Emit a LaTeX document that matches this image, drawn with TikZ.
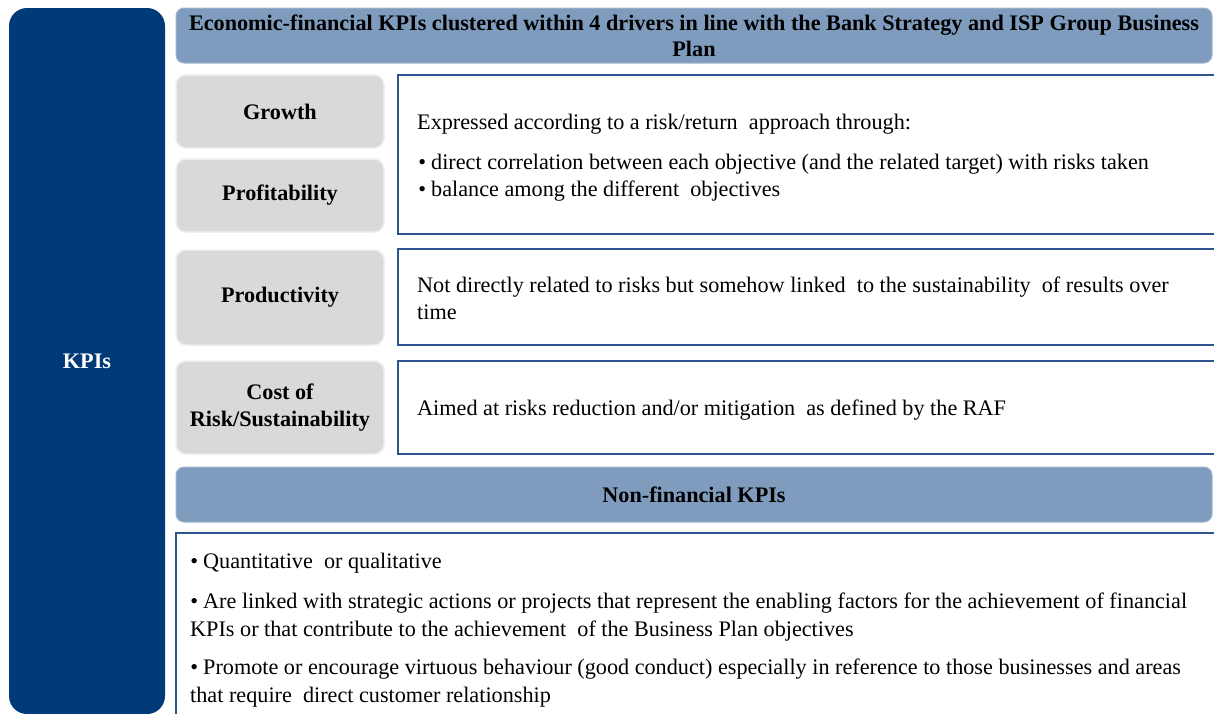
\documentclass[tikz,border=0pt]{standalone}
\usepackage{fontspec}
\setmainfont{Liberation Serif}
\usepackage{tikz}
\definecolor{kpinavy}{RGB}{0,58,120}
\definecolor{headblue}{RGB}{127,156,190}
\definecolor{drivergray}{RGB}{217,217,217}
\definecolor{panelblue}{RGB}{47,85,145}
\newcommand{\kpifont}{\fontsize{22.2}{27}\selectfont}
\newcommand{\kpibul}{\llap{\textbullet\hspace{5pt}}}
\tikzstyle{bar}=[rectangle,rounded corners=18pt,fill=kpinavy,text=white,inner sep=0pt,font=\kpifont\bfseries]
\tikzstyle{head}=[rectangle,rounded corners=8pt,fill=headblue,draw=headblue!75!white,line width=1pt,inner sep=0pt,align=center,font=\fontsize{22.2}{26}\selectfont\bfseries]
\tikzstyle{driver}=[rectangle,rounded corners=10pt,fill=drivergray,draw=drivergray!45!white,line width=1.5pt,inner sep=0pt,align=center,font=\kpifont\bfseries]
\tikzstyle{panel}=[rectangle,draw=panelblue,line width=2.2pt,fill=white,inner sep=0pt]
\tikzstyle{txt}=[anchor=base west,inner sep=0pt,font=\kpifont]

\begin{document}
\begin{tikzpicture}[x=1pt,y=-1pt]

  \useasboundingbox (0,0) rectangle (1214,713);
  \clip (0,0) rectangle (1214,713);

  \node[bar,minimum width=156pt,minimum height=706pt] (kpi) at (87,361) {\raisebox{-3pt}{KPIs}};

  \node[head,minimum width=1036pt,minimum height=55pt] (econ) at (694,35.5) {Economic-financial KPIs clustered within 4 drivers in line with the Bank Strategy and ISP Group Business\\Plan};

  \node[driver,minimum width=208pt,minimum height=73pt] (grow) at (280,111.5) {Growth};
  \node[driver,minimum width=208pt,minimum height=73pt] (prof) at (280,195.5) {Profitability};
  \node[driver,minimum width=208pt,minimum height=95pt] (prod) at (280,297.5) {Productivity};
  \node[driver,minimum width=208pt,minimum height=93pt] (cost) at (280,407.5) {Cost of\\Risk/Sustainability};

  \node[panel,minimum width=832pt,minimum height=159pt] (riskret) at (814,154.5) {};
  \node[panel,minimum width=832pt,minimum height=96pt] (sustain) at (814,297) {};
  \node[panel,minimum width=832pt,minimum height=93pt] (mitig) at (814,407.5) {};

  \node[txt] (riskintro) at (417,129) {Expressed according to a risk/return\ \ approach through:};
  \node[txt] (riskb1) at (431,169) {\kpibul direct correlation between each objective (and the related target) with risks taken};
  \node[txt] (riskb2) at (431,196) {\kpibul balance among the different\ \ objectives};

  \node[txt] (sust1) at (417,292) {Not directly related to risks but somehow linked\ \ to the sustainability\ \ of results over};
  \node[txt] (sust2) at (417,319) {time};

  \node[txt] (mitig1) at (417,415) {Aimed at risks reduction and/or mitigation\ \ as defined by the RAF};

  \node[head,minimum width=1036pt,minimum height=55pt] (nonfin) at (694,494.5) {Non-financial KPIs};

  \node[panel,minimum width=1054pt,minimum height=197pt] (nonfinbox) at (703,631.5) {};

  \node[txt] (nf1) at (203,568) {\kpibul Quantitative\ \ or qualitative};
  \node[txt] (nf2a) at (203,608) {\kpibul Are linked with strategic actions or projects that represent the enabling factors for the achievement of financial};
  \node[txt] (nf2b) at (190,636) {KPIs or that contribute to the achievement\ \ of the Business Plan objectives};
  \node[txt] (nf3a) at (203,674) {\kpibul Promote or encourage virtuous behaviour (good conduct) especially in reference to those businesses and areas};
  \node[txt] (nf3b) at (190,702) {that require\ \ direct customer relationship};

\end{tikzpicture}
\end{document}
